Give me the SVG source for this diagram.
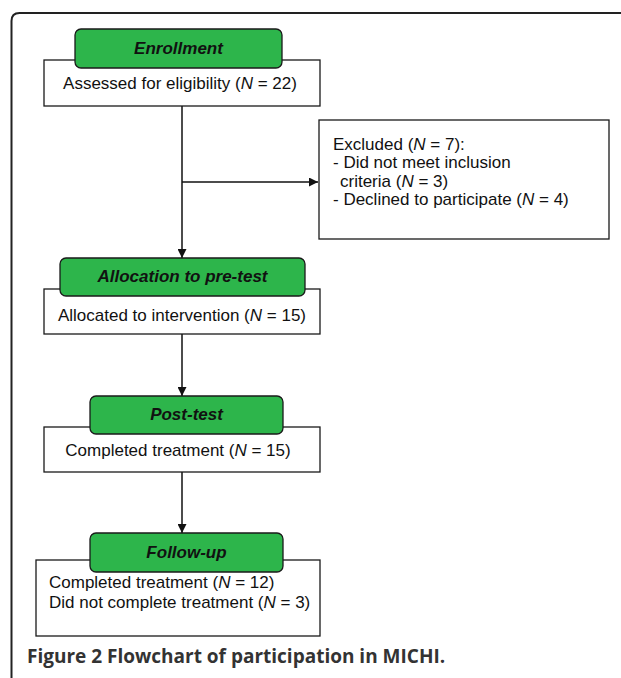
<svg xmlns="http://www.w3.org/2000/svg" width="621" height="678" viewBox="0 0 621 678">
<style>
.box{fill:#fff;stroke:#1a1a1a;stroke-width:1.3}
.hdr{fill:#2db54b;stroke:#1a1a1a;stroke-width:1.3}
.t{font-family:"Liberation Sans",Arial,sans-serif;font-size:17px;fill:#111}
.h{font-family:"Liberation Sans",Arial,sans-serif;font-size:17px;font-weight:bold;font-style:italic;fill:#111}
.ln{stroke:#111;stroke-width:1.5;fill:none}
.cap{font-family:"Open Sans","DejaVu Sans",sans-serif;font-size:19px;font-weight:bold;fill:#333}
</style>
<defs>
<marker id="ar" viewBox="0 0 10 10" refX="10" refY="5" markerWidth="10" markerHeight="9" markerUnits="userSpaceOnUse" orient="auto">
<path d="M0,0 L10,5 L0,10 z" fill="#111"/>
</marker>
</defs>
<path d="M11.5,678 V21 Q11.5,13 19.5,13 H621" fill="none" stroke="#222" stroke-width="2"/>
<g id="connectors">
<path class="ln" d="M182,106 V258" marker-end="url(#ar)"/>
<path class="ln" d="M182,182 H318" marker-end="url(#ar)"/>
<path class="ln" d="M182,334 V396" marker-end="url(#ar)"/>
<path class="ln" d="M182,472 V533" marker-end="url(#ar)"/>
</g>
<g id="enrollment">
<rect class="box" x="44" y="60" width="276" height="46"/>
<rect class="hdr" x="75" y="29" width="207" height="39" rx="6"/>
<text class="h" x="178.5" y="54" text-anchor="middle">Enrollment</text>
<text class="t" x="180" y="89" text-anchor="middle">Assessed for eligibility (<tspan font-style="italic">N</tspan> = 22)</text>
</g>
<g id="excluded">
<rect class="box" x="319" y="120" width="290" height="119"/>
<text class="t" x="333" y="150">Excluded (<tspan font-style="italic">N</tspan> = 7):</text>
<text class="t" x="333" y="168">- Did not meet inclusion</text>
<text class="t" x="340" y="187">criteria (<tspan font-style="italic">N</tspan> = 3)</text>
<text class="t" x="333" y="205">- Declined to participate (<tspan font-style="italic">N</tspan> = 4)</text>
</g>
<g id="allocation">
<rect class="box" x="44" y="289" width="276" height="45"/>
<rect class="hdr" x="60" y="258" width="245" height="38" rx="6"/>
<text class="h" x="182.5" y="282" text-anchor="middle">Allocation to pre-test</text>
<text class="t" x="182" y="321" text-anchor="middle">Allocated to intervention (<tspan font-style="italic">N</tspan> = 15)</text>
</g>
<g id="posttest">
<rect class="box" x="44" y="427" width="276" height="45"/>
<rect class="hdr" x="90" y="396" width="193" height="38" rx="6"/>
<text class="h" x="186.5" y="420" text-anchor="middle">Post-test</text>
<text class="t" x="178" y="456" text-anchor="middle">Completed treatment (<tspan font-style="italic">N</tspan> = 15)</text>
</g>
<g id="followup">
<rect class="box" x="36" y="560" width="284" height="76"/>
<rect class="hdr" x="90" y="533" width="193" height="39" rx="6"/>
<text class="h" x="186.5" y="558" text-anchor="middle">Follow-up</text>
<text class="t" x="49" y="588">Completed treatment (<tspan font-style="italic">N</tspan> = 12)</text>
<text class="t" x="49" y="608">Did not complete treatment (<tspan font-style="italic">N</tspan> = 3)</text>
</g>
<text class="cap" x="27" y="663">Figure 2 Flowchart of participation in MICHI.</text>
</svg>
